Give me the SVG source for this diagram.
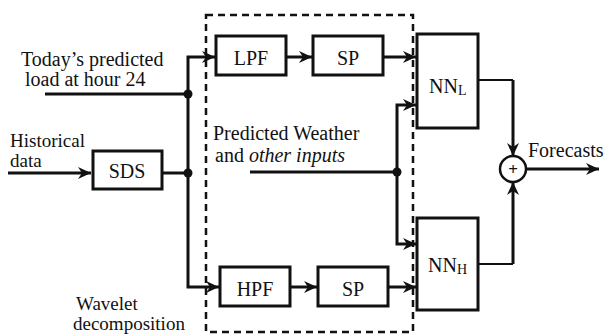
<svg xmlns="http://www.w3.org/2000/svg" width="605" height="336" viewBox="0 0 605 336">
<defs>
<style>
text{font-family:'Liberation Serif','DejaVu Serif',serif;font-size:20px;fill:#111}
.box{fill:none;stroke:#111;stroke-width:3}
.ln{fill:none;stroke:#111;stroke-width:3}
.thin{fill:none;stroke:#111;stroke-width:2}
.dot{fill:#111}
.c{text-anchor:middle}
.sub{font-size:14px}
.sm{font-size:19px}
</style>
<marker id="ah" markerUnits="userSpaceOnUse" markerWidth="14" markerHeight="12" refX="13" refY="6" orient="auto">
<path d="M0,0 L13,6 L0,12 L4,6 Z" fill="#111"/>
</marker>
</defs>
<rect width="605" height="336" fill="#fff"/>
<rect id="wavelet-box" x="206" y="15" width="207" height="317" fill="none" stroke="#111" stroke-width="2.5" stroke-dasharray="7,5"/>
<g id="connectors">
<path class="ln" d="M45,94 H188"/>
<path class="ln" d="M8,173 H91" marker-end="url(#ah)"/>
<path class="ln" d="M162,173 H188"/>
<path class="ln" d="M188,94 V57 H215" marker-end="url(#ah)"/>
<path class="ln" d="M188,94 V287 H219" marker-end="url(#ah)"/>
<path class="ln" d="M286,57 H312" marker-end="url(#ah)"/>
<path class="ln" d="M290,287 H317" marker-end="url(#ah)"/>
<path class="ln" d="M383,57 H416" marker-end="url(#ah)"/>
<path class="ln" d="M388,287 H416" marker-end="url(#ah)"/>
<path class="ln" d="M250,172 H397"/>
<path class="ln" d="M397,172 V105 H416" marker-end="url(#ah)"/>
<path class="ln" d="M397,172 V244 H416" marker-end="url(#ah)"/>
<path class="thin" d="M478,80 H513"/>
<path class="ln" d="M513,80 V156" marker-end="url(#ah)"/>
<path class="thin" d="M478,264 H513"/>
<path class="ln" d="M513,264 V182" marker-end="url(#ah)"/>
<path class="ln" d="M526,169 H599" marker-end="url(#ah)"/>
<circle class="dot" cx="188" cy="94" r="4.5"/>
<circle class="dot" cx="188" cy="173" r="4.5"/>
<circle class="dot" cx="397" cy="172" r="4.5"/>
</g>
<g id="sds"><rect class="box" x="93" y="151" width="69" height="38"/><text class="c" x="127" y="178">SDS</text></g>
<g id="lpf"><rect class="box" x="216" y="36" width="70" height="39"/><text class="c" x="251" y="65">LPF</text></g>
<g id="sp-top"><rect class="box" x="313" y="36" width="70" height="39"/><text class="c" x="348" y="65">SP</text></g>
<g id="hpf"><rect class="box" x="220" y="267" width="70" height="39"/><text class="c" x="255" y="296">HPF</text></g>
<g id="sp-bottom"><rect class="box" x="318" y="267" width="70" height="39"/><text class="c" x="353" y="296">SP</text></g>
<g id="nn-l"><rect class="box" x="417" y="34" width="61" height="94"/><text x="429" y="93">NN<tspan class="sub" dy="2">L</tspan></text></g>
<g id="nn-h"><rect class="box" x="417" y="218" width="61" height="92"/><text x="428" y="272">NN<tspan class="sub" dy="2">H</tspan></text></g>
<g id="sum"><circle cx="513" cy="169" r="13" fill="#fff" stroke="#111" stroke-width="2.5"/><text class="c" x="513" y="175" style="font-size:17px;font-weight:bold">+</text></g>
<g id="labels">
<text x="21" y="66">Today’s predicted</text>
<text x="25" y="86">load at hour 24</text>
<text class="sm" x="10" y="147">Historical</text>
<text class="sm" x="10" y="167">data</text>
<text x="213" y="140">Predicted Weather</text>
<text x="215" y="162">and <tspan font-style="italic">other inputs</tspan></text>
<text x="528" y="157">Forecasts</text>
<text class="sm" x="76" y="310">Wavelet</text>
<text class="sm" x="73" y="330">decomposition</text>
</g>
</svg>
